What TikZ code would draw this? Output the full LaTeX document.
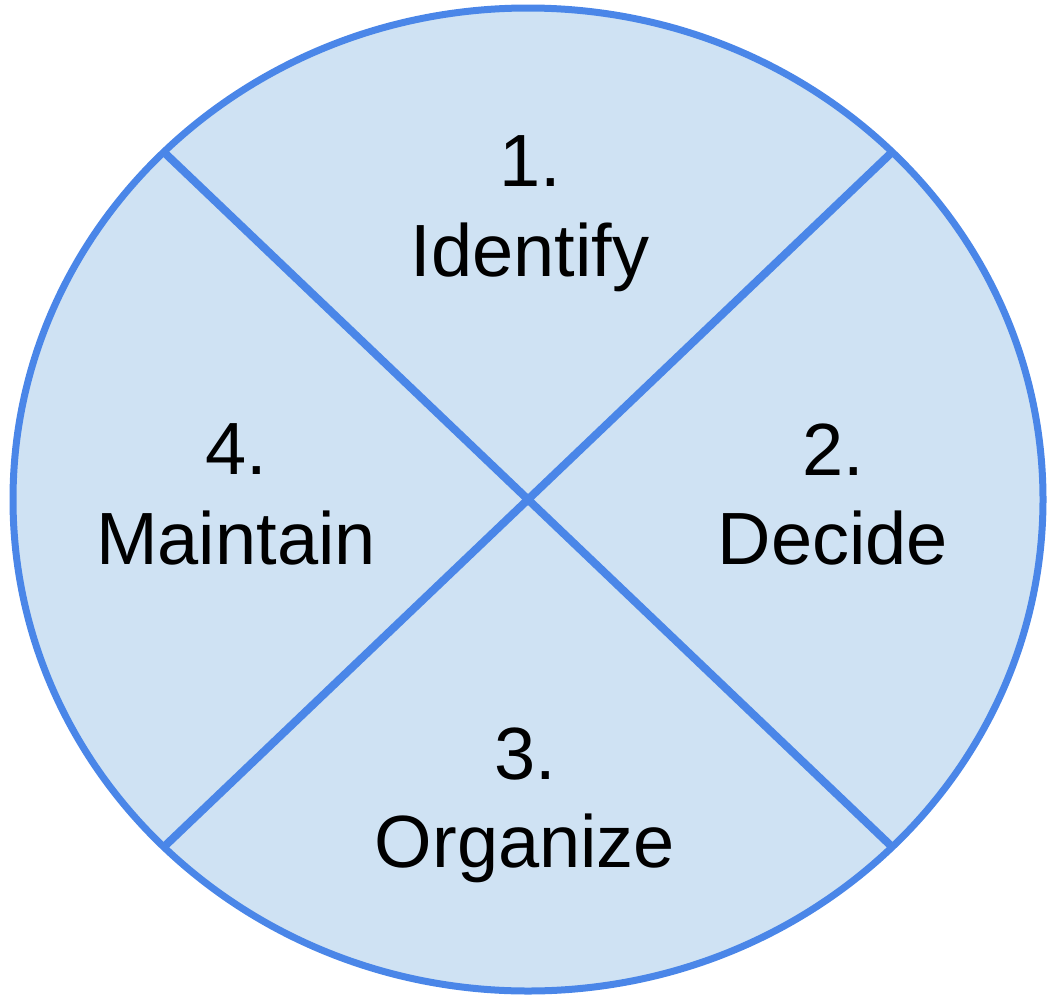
\documentclass[tikz,border=0pt]{standalone}
\usepackage{fontspec}
\setmainfont{Liberation Sans}
\definecolor{wedgefill}{HTML}{CFE2F3}
\definecolor{wedgeline}{HTML}{4A86E8}
\begin{document}
\begin{tikzpicture}[x=1pt,y=-1pt,
  rim/.style={draw=wedgeline,fill=wedgefill,line width=7pt},
  divider/.style={draw=wedgeline,line width=8pt},
  lbl/.style={font=\fontsize{74}{88}\selectfont,anchor=base,inner sep=0pt,text=black}]
\useasboundingbox (0,0) rectangle (1047,999);
\coordinate (c) at (528,499.5);
\draw[rim] (c) ellipse [x radius=515, y radius=491.5];
\coordinate (tl) at (163.8,152);
\coordinate (tr) at (892.2,152);
\coordinate (bl) at (163.8,847);
\coordinate (br) at (892.2,847);
\draw[divider] (tl) -- (br);
\draw[divider] (tr) -- (bl);
\node[lbl] (n1) at (530,186) {1.};
\node[lbl] (t1) at (530,276) {Identify};
\node[lbl] (n2) at (833,475) {2.};
\node[lbl] (t2) at (833,564) {Decide};
\node[lbl] (n3) at (525,779) {3.};
\node[lbl] (t3) at (525,867) {Organize};
\node[lbl] (n4) at (236,474) {4.};
\node[lbl] (t4) at (236,564) {Maintain};
\end{tikzpicture}
\end{document}
